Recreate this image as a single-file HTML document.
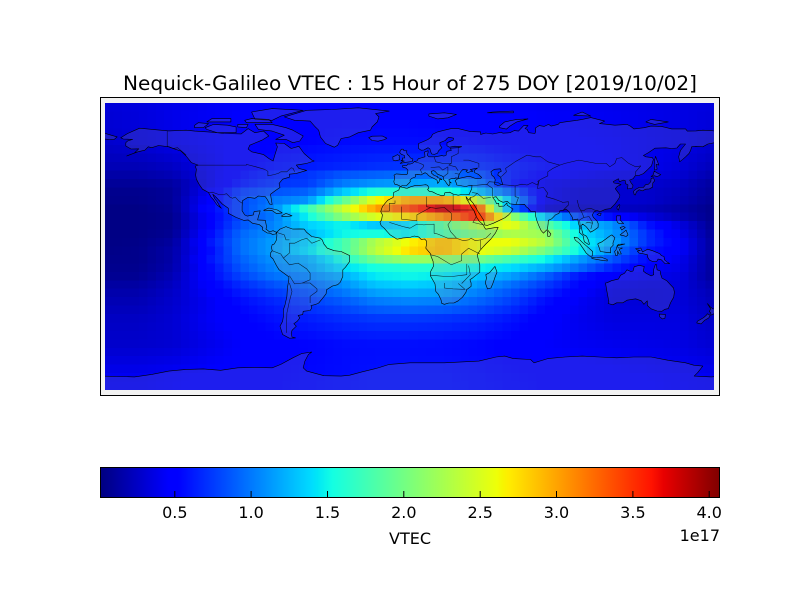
<!DOCTYPE html>
<html>
<head>
<meta charset="utf-8">
<style>
html,body{margin:0;padding:0;background:#fff;width:800px;height:600px;overflow:hidden}
svg{display:block}
text{font-family:"DejaVu Sans","Liberation Sans",sans-serif;fill:#000}
</style>
</head>
<body>
<svg id="s" width="800" height="600" viewBox="0 0 800 600" xmlns="http://www.w3.org/2000/svg">
<defs>
<linearGradient id="jet" x1="0" x2="1" y1="0" y2="0">
<stop offset="0" stop-color="#000080"/>
<stop offset="0.11" stop-color="#0000ff"/>
<stop offset="0.125" stop-color="#0000ff"/>
<stop offset="0.34" stop-color="#00dbff"/>
<stop offset="0.35" stop-color="#00e6f7"/>
<stop offset="0.375" stop-color="#14ffe2"/>
<stop offset="0.64" stop-color="#eeff08"/>
<stop offset="0.65" stop-color="#f7f500"/>
<stop offset="0.66" stop-color="#ffec00"/>
<stop offset="0.89" stop-color="#ff1300"/>
<stop offset="0.91" stop-color="#e80000"/>
<stop offset="1" stop-color="#800000"/>
</linearGradient>
<clipPath id="fc"><rect x="105" y="103" width="609" height="287"/></clipPath>
</defs>
<rect width="800" height="600" fill="#fff"/>
<text x="410" y="90" font-size="19.5" text-anchor="middle" textLength="574" lengthAdjust="spacingAndGlyphs">Nequick-Galileo VTEC : 15 Hour of 275 DOY [2019/10/02]</text>
<rect x="100" y="97" width="620" height="299" fill="#f2f2f2"/>
<g id="heat" shape-rendering="crispEdges"></g>
<g id="land" clip-path="url(#fc)"></g>
<rect x="100.5" y="97.5" width="619" height="298" fill="none" stroke="#000" stroke-width="1"/>

<rect x="100.5" y="467.5" width="619" height="30" fill="url(#jet)" stroke="#000" stroke-width="1"/>
<g stroke="#000" stroke-width="1">
<line x1="174.8" y1="498" x2="174.8" y2="491"/>
<line x1="251.1" y1="498" x2="251.1" y2="491"/>
<line x1="327.5" y1="498" x2="327.5" y2="491"/>
<line x1="403.8" y1="498" x2="403.8" y2="491"/>
<line x1="480.2" y1="498" x2="480.2" y2="491"/>
<line x1="556.5" y1="498" x2="556.5" y2="491"/>
<line x1="632.9" y1="498" x2="632.9" y2="491"/>
<line x1="709.2" y1="498" x2="709.2" y2="491"/>
</g>
<g font-size="16" text-anchor="middle">
<text x="174.8" y="518">0.5</text>
<text x="251.1" y="518">1.0</text>
<text x="327.5" y="518">1.5</text>
<text x="403.8" y="518">2.0</text>
<text x="480.2" y="518">2.5</text>
<text x="556.5" y="518">3.0</text>
<text x="632.9" y="518">3.5</text>
<text x="709.2" y="518">4.0</text>
</g>
<text x="410" y="544" font-size="16" text-anchor="middle">VTEC</text>
<text x="720" y="541" font-size="16" text-anchor="end">1e17</text>
</svg>
<script>
(function(){
function pw(pts,t){for(var i=1;i<pts.length;i++){if(t<=pts[i][0]){var a=pts[i-1],b=pts[i];return a[1]+(b[1]-a[1])*(t-a[0])/(b[0]-a[0]);}}return pts[pts.length-1][1];}
function jet(v){var t=(v-0.01)/4.06;t=Math.max(0,Math.min(1,t));
 var r=pw([[0,0],[0.35,0],[0.66,1],[0.89,1],[1,0.5]],t);
 var g=pw([[0,0],[0.125,0],[0.375,1],[0.64,1],[0.91,0],[1,0]],t);
 var b=pw([[0,0.5],[0.11,1],[0.34,1],[0.65,0],[1,0]],t);
 return "rgb("+Math.round(r*255)+","+Math.round(g*255)+","+Math.round(b*255)+")";}
var CX=[];for(var i=0;i<19;i++)CX.push(105+i*609/18);
var CY=[107.7,141.6,166.3,174.7,183.2,191.6,200.1,208.5,217,225.4,233.8,242.3,250.7,259.2,267.6,276.1,287.6,302.9,319.8,345.3,379.2];
var V=[
[.32,.34,.38,.42,.45,.48,.50,.50,.50,.50,.48,.47,.45,.43,.42,.40,.38,.36,.34],
[.28,.32,.38,.43,.48,.50,.52,.55,.56,.56,.55,.53,.50,.48,.46,.44,.40,.37,.30],
[.20,.20,.25,.38,.50,.58,.62,.66,.70,.72,.72,.70,.62,.55,.50,.45,.40,.33,.22],
[.15,.15,.2,.36,.55,.66,.72,.85,.9,.95,.95,.85,.62,.5,.42,.38,.35,.3,.17],
[.1,.1,.13,.35,.6,.72,.75,1.0,1.1,1.15,1.2,1.0,.6,.4,.35,.32,.3,.25,.12],
[.06,.06,.1,.4,.75,.85,.9,1.3,1.6,1.6,1.65,1.3,.9,.4,.3,.3,.28,.22,.1],
[.05,.05,.1,.45,.8,1.0,1.1,1.85,2.6,3.0,3.0,2.4,1.2,.4,.3,.3,.28,.2,.08],
[.03,.03,.08,.5,.8,1.05,1.7,2.4,3.0,3.4,3.85,3.5,1.0,.3,.25,.25,.22,.15,.05],
[.03,.03,.06,.45,.8,1.0,1.5,2.1,2.5,2.75,3.1,3.6,2.2,1.3,.8,.55,.35,.2,.05],
[.03,.03,.06,.45,.85,1.05,1.35,1.5,1.3,1.4,1.9,2.3,2.6,1.9,1.3,1.1,.6,.35,.06],
[.03,.03,.08,.5,.92,1.1,1.25,1.5,1.55,1.45,1.8,2.05,2.3,2.2,1.45,1.15,.7,.4,.08],
[.03,.04,.12,.55,.95,1.15,1.35,1.75,2.3,2.65,2.9,2.6,2.6,2.3,1.55,1.2,.7,.45,.1],
[.04,.05,.15,.5,.95,1.15,1.4,1.75,2.35,2.75,2.9,2.6,2.4,2.0,1.5,1.05,.6,.45,.1],
[.05,.05,.15,.55,.9,1.1,1.2,1.55,2.0,2.2,2.15,2.0,1.75,1.5,1.15,.85,.55,.4,.1],
[.06,.06,.17,.5,.85,1.05,1.15,1.4,1.55,1.6,1.6,1.5,1.4,1.2,.95,.65,.45,.38,.1],
[.08,.08,.2,.5,.78,.97,1.05,1.2,1.45,1.5,1.45,1.3,1.15,.9,.6,.45,.4,.35,.1],
[.15,.15,.25,.45,.65,.80,.90,1.05,1.25,1.3,1.25,1.1,.9,.7,.5,.35,.32,.33,.18],
[.20,.20,.28,.40,.55,.65,.75,.85,.98,1.02,1.0,.9,.75,.55,.42,.33,.32,.33,.22],
[.25,.25,.30,.42,.50,.57,.62,.68,.72,.72,.70,.66,.58,.48,.40,.35,.35,.35,.26],
[.28,.28,.30,.38,.45,.50,.52,.55,.56,.56,.55,.53,.50,.45,.42,.40,.38,.36,.30],
[.42,.42,.45,.48,.50,.52,.54,.56,.58,.58,.58,.56,.54,.52,.50,.48,.46,.44,.42]];
function loc(arr,v){if(v<=arr[0])return[0,0];if(v>=arr[arr.length-1])return[arr.length-2,1];
 for(var i=0;i<arr.length-1;i++){if(v<=arr[i+1])return[i,(v-arr[i])/(arr[i+1]-arr[i])];}return[arr.length-2,1];}
var heat=document.getElementById("heat");
var NC=72,NR=34,cw=609/NC,ch=287/NR,html="";
for(var r=0;r<NR;r++){for(var c=0;c<NC;c++){
 var x0=105+c*cw,y0=103+r*ch,px=x0+cw/2,py=y0+ch/2;
 var a=loc(CX,px),b=loc(CY,py);
 var i0=a[0],fx=a[1],j0=b[0],fy=b[1];
 var v=(V[j0][i0]*(1-fx)+V[j0][i0+1]*fx)*(1-fy)+(V[j0+1][i0]*(1-fx)+V[j0+1][i0+1]*fx)*fy;
 var w=(c==NC-1)?cw:cw+0.6,h=(r==NR-1)?ch:ch+0.6;
 html+='<rect x="'+x0.toFixed(2)+'" y="'+y0.toFixed(2)+'" width="'+w.toFixed(2)+'" height="'+h.toFixed(2)+'" fill="'+jet(v)+'"/>';
}}
heat.innerHTML=html;

function P(lon,lat){return[100+(lon+180)*620/360,97+(90-lat)*299/180];}
function path(a,close){var d="";for(var i=0;i<a.length;i+=2){var p=P(a[i],a[i+1]);d+=(i?"L":"M")+p[0].toFixed(1)+" "+p[1].toFixed(1);}return d+(close?"Z":"");}
var polys=[
[-168,65.5,-164,68,-157,71.2,-148,70.3,-140,69.6,-130,70,-125,69.5,-115,68.8,-108,68,-98,67.8,-94,71,-90,68.5,-85,69.5,-82,66.5,-86,64,-93,61,-94,58.7,-92,57,-85,55.3,-82,53,-79.5,51.5,-78.5,55,-77,60,-78,62.3,-73,62,-69,59,-64.5,60.3,-61.5,56,-57,52,-55.6,51.5,-60,50,-66,49,-64.5,47,-60,45.8,-66,44,-70,43.5,-70,41.7,-74,40.5,-76,38,-75.5,35.5,-78,33.8,-81,31.5,-80.5,28,-80,25.3,-81.5,25.5,-82.7,28,-84,30,-88,30.4,-90,29,-94,29.6,-97.3,27.5,-97.5,24,-97.5,21.5,-96,19,-94.5,18.3,-91,19,-90.5,21,-87,21.5,-88,18,-88.5,16,-84,15.8,-83.3,12,-83.6,10.5,-81.5,8.8,-79.5,9.5,-77.5,8.5,-78,7.5,-80,7.3,-81,8,-83,8.2,-85.7,10,-85.5,11.5,-87.5,13.2,-91.5,14,-94,16,-96.5,15.7,-101,17.5,-105.5,20,-105.5,23,-109,25.6,-112.5,29.5,-114.5,31.5,-113.5,29,-112,27,-110.3,24,-109.5,23,-112,25,-114,28,-115.5,29.7,-117,32.5,-120.5,34.5,-122.5,37.5,-124,40.5,-124.5,43,-124,46.5,-124.7,48.4,-123,49,-127,50.5,-130,54.5,-133,57.5,-137,58.8,-140,60,-146,60.8,-150,59.5,-152,60,-154,58,-158,57,-162,55.5,-164.5,54.5,-160,56.3,-157.5,58.8,-162,58.7,-165,60.5,-165,62.5,-164,63.5,-161,64.5,-166.5,64.7],
[-80,73.5,-72,71.5,-68,70,-62,66.5,-64,63.5,-68,62.5,-72,64.5,-78,64.5,-73,67,-80,69.5,-88,70.5,-90,73.5],
[-118,70.5,-112,68.5,-101,68.5,-101,72,-106,73,-114,73.5,-119,71.5],
[-90,76.5,-80,76,-75,78.5,-62,82,-80,83,-92,81],
[-125,71.5,-120,71.5,-117,74,-123,74.5,-125,73],
[-95,74.5,-80,74.5,-82,76.5,-92,77,-96,76],
[-100,72,-95,71.5,-94,73.5,-100,73.5],
[-118,75,-104,75,-104,77,-115,77],
[-73,78,-67,76,-58,75.5,-55,72,-53,70,-52,66,-49,62,-44,59.8,-42,61,-40,65,-35,66,-30,68.5,-23,70,-22,72,-19,75,-18,78,-20,80,-12,81.5,-30,83.5,-45,82.5,-60,82,-65,80.5],
[-24,65.5,-22,66.4,-16,66.5,-13.5,65.2,-15,64.3,-18.5,63.4,-22,63.8],
[-85,21.8,-82,23.2,-77,22,-74.2,20.2,-77.5,19.8,-80,21.6,-84.5,21.5],
[-74.5,18.5,-72,19.9,-68.5,18.5,-70.5,18.2,-74.4,18],
[-77.5,8.5,-75.5,10.5,-72,12,-71,11.5,-68,10.5,-64,10.6,-61.5,10.5,-60,8.5,-57,6,-52,5,-51,4,-50,1.5,-48,-1,-44,-2.5,-40,-3,-35,-5.5,-35,-9,-37.5,-12.5,-39,-14,-39,-18,-40.5,-21.5,-42,-23,-45,-23.8,-48.5,-26,-48.7,-28.5,-51,-31.5,-53,-34,-55,-35,-57.5,-35.5,-57,-37,-58,-38.5,-62,-39,-62.3,-41,-65,-41.5,-64,-43,-65.5,-45,-67.5,-46.5,-66,-48,-68.5,-50.5,-69,-52.2,-68.5,-54.5,-66.5,-55,-70,-55.2,-74,-53,-75.5,-48,-74,-45,-73.5,-42,-73.5,-38,-72.5,-35,-71.5,-30,-71.2,-25,-70.4,-20,-70.3,-18.3,-72,-17,-76,-14,-77.5,-11.5,-79.5,-7.5,-81,-6,-81,-4,-80,-2.5,-80.5,-0.5,-80,1,-78.8,1.5,-77.5,4,-77.3,7],
[-5.7,50,-3,50.6,1.3,51.2,1.7,52.7,0.3,53.3,-0.5,54.5,-1.7,55.6,-2,56.8,-1.8,57.6,-3.5,57.7,-4,58.6,-5,58.6,-5.7,57.5,-6,56.5,-5,55.5,-3.2,54.8,-3.2,54,-3,53.3,-4.5,53.3,-4.2,52.2,-5.2,51.7,-3.3,51.4,-4.5,51.1],
[-6,52.2,-6.3,53.4,-6,54.5,-7.3,55.3,-8.5,54.6,-10,54,-9.8,52,-8.5,51.6],
[49.3,-12,50.5,-15.5,49.5,-18,48,-22.5,47,-25,45,-25.5,43.7,-22,44.4,-19,44,-17,46.3,-15.7,48,-13.5],
[80,9.8,81.8,7.5,81.2,6.2,80,6,79.8,8],
[130.8,31,131.5,33,133,34.2,135,33.5,136.8,34.5,139,34.7,140.8,35.7,141,38.3,142,39.5,141.4,41.4,140,40.8,139.8,39,138.5,37.5,136.8,37.2,135.5,35.6,133,35.5,131,34.4,129.8,33.3,130.2,31.2],
[140,42,141.8,42.6,143.5,42,145.6,43.3,144,44,141.8,45.4,141.3,43.4],
[142,46,143.5,46.6,143,49.5,144.5,49,143,53,142.6,54.3,142,52,142.2,49],
[120.2,22.8,121,21.9,121.9,24.8,121.5,25.3,120.2,23.8],
[108.6,19.2,110.5,18.6,111,19.8,110,20.1],
[120,18.5,122.3,18.5,122,16,124,13.8,121.5,13.7,120.5,14.5,119.8,16.5],
[122,7,125.5,9.8,126.6,7,125.5,6,124,6.5],
[123,10,125,11.5,124,12,122,11.5],
[109,1.5,110,-1,110.5,-3,114,-3.5,116.5,-3.8,116.3,-1,118,0.8,117.8,2,119,5.3,117.2,7,116,6.3,113.8,4.6,111.5,2.8,109.6,2],
[95.3,5.6,97.5,5.2,100.3,2.3,103.7,-0.8,106,-3,105.8,-5.8,104.5,-5.9,102.3,-4,100.4,-1,98.6,1.7,96,3.8],
[105.2,-6.8,108.5,-6.6,111,-6.4,114.5,-7.8,114.5,-8.7,110.5,-8.2,106.5,-7.4],
[119.5,-5.5,120.3,-5.5,120.6,-2.6,121.3,-4.6,122.7,-4.5,121.5,-1.8,123.3,-0.9,121,-0.9,120.2,0.3,121,1.3,124.8,1.5,120.8,0.5,120,-0.2,119.7,-2,118.8,-3],
[131,-1.3,134,-0.9,135,-3.3,138,-1.6,141,-2.6,145,-4.3,146,-5.5,147.5,-6,147.8,-8,149.5,-9.5,150.8,-10.3,148,-10.2,146,-8,144,-7.6,143.3,-9,141,-9.1,139,-8.1,138,-6.5,137.9,-5,135.5,-4.4,133,-4,132,-2.8,133.8,-2.4,132,-2],
[113.5,-22,114.2,-26.3,115.5,-33.5,115,-34.3,117.8,-35.1,120,-33.9,123.6,-33.9,126,-32.3,131,-31.5,134.3,-32.7,135.8,-34.8,137.8,-32.7,137.8,-35.5,140,-37.5,143.5,-38.8,146.3,-39,148,-37.8,150,-37.4,151.3,-33.8,153.1,-30.5,153.5,-27.5,153,-25,150.8,-22.5,149,-20.5,146.3,-19,145.4,-16.2,145.3,-14.7,143.5,-14,143,-10.8,142.5,-10.8,141.5,-13.7,141.5,-17,140,-17.7,137,-16,135.5,-14.8,136,-12,133,-11.3,130.2,-12.2,129.5,-14.8,128,-15,126,-14,124.5,-16.2,122.3,-17.3,121,-19.6,117,-20.6,114.5,-21.8],
[144.7,-40.7,148.3,-40.9,148,-43.2,146.5,-43.6,145,-42.3],
[172.7,-34.4,174.5,-36.5,175.8,-37.5,178.5,-37.7,177.5,-39.2,176.5,-40.5,174.8,-41.3,174.6,-39.8,173.8,-39.2,174.6,-37.5],
[172.7,-40.5,174.3,-41.5,173.5,-43,171,-44.5,169,-46.6,166.5,-46,166.8,-45,168.5,-44,170.5,-42.8,172,-41.5],
[11,78.5,16,76.8,22,77.5,27,79.5,20,80.5,11,79.8],
[52,71.5,56,70.7,58,72.5,62,75,68.5,76.8,62,76.5,55,75,52,72.5],
[95,79,105,78.5,100,81],
[45,80.5,60,80.5,60,81.5,48,81],
[137,75,142,73.5,150,75,140,76.5],
[-180,65,-175,64.5,-172,64.3,-170,66,-175,67.5,-180,69],
[-180,-78,-160,-78.5,-150,-77,-140,-75,-130,-74,-120,-73.7,-110,-74.5,-100,-73,-90,-72.8,-80,-73,-75,-71,-68,-67,-63,-64.5,-57,-63.5,-59,-65,-61,-69,-62,-73,-60,-75,-50,-77.8,-40,-78,-35,-77.5,-28,-75.5,-20,-73.5,-12,-71,0,-70,10,-70,20,-70,30,-69.5,40,-69,50,-66.5,55,-66,60,-67.5,70,-68,72,-70,80,-67.5,90,-66.5,100,-66,110,-66.5,120,-67,130,-66.5,140,-66.5,150,-68.5,160,-70,165,-71.5,170,-72,167,-76,165,-78,175,-78.5,180,-78,181,-92,-181,-92]
];
var EA=[-5.9,35.8,-6.5,34,-9.5,32.5,-9.8,29.5,-13,27.8,-16,24,-17,21,-16,19,-16.5,16,-17.4,14.7,-16.7,12.5,-15,11,-13.3,9,-11.5,7,-7.5,4.4,-4,5.2,0,5.5,2.5,6.3,5,5.8,6.5,4.3,8.5,4.5,9.7,3.2,9.5,1,9.2,-1,11.8,-4.2,12.3,-6.2,13.4,-9,13.6,-12,12,-15,11.8,-17.5,14.5,-22.5,15,-27,16.5,-28.8,18,-32,18.4,-34.2,20,-34.8,22.5,-34,25.5,-34,28,-32.7,30.5,-30.5,32.5,-27.5,32.8,-26,35.5,-24,35.5,-22,34.8,-20,36.5,-18.8,40.5,-15.5,40.5,-11,39.5,-7,39,-5,40.5,-2.5,42,-0.8,44,1.5,47,4.5,49.5,8,51.2,11.5,49,11.3,44,10.4,43.2,11.5,42.6,13,40,15.5,38.5,18,37.3,21.5,35.7,23.5,34.5,26,33,28.5,32.5,30,34.2,27.8,35,29.5,35,28,36.7,26,38.5,23,39.2,21.5,40.8,19,42.7,16,43.3,13,45,12.7,48.5,14,52,15.8,55,17.2,57,18.8,58.6,20.5,59.8,22.5,58,23.8,56.4,24.9,56.3,26.3,54.5,24.3,51.6,24.2,51.5,26,50.2,25.8,49.5,27.5,48,29.5,50,30,51.5,27.8,54,26.6,56.5,27.2,58,25.7,61.5,25.2,66.5,25.4,67.4,24,68.8,22.9,70.2,21,72.8,21,72.8,19,73.5,16,74.7,12.8,76.2,9.5,77.5,8,78.2,8.8,79.8,10.3,80.2,13.5,80.3,15.8,82.2,16.6,84.5,19,86.5,20,87,21.5,89,21.8,90.5,22.5,92.3,21,92.8,20,94.3,17.5,94.5,16,97.5,16.5,97.8,14,98.6,11.5,98.3,8.5,100.5,6.5,101.2,2.8,103.4,1.3,104.2,1.4,103.5,4.1,102.5,6.2,100.5,7.3,99.8,10,99.3,12.5,100.3,13.5,102,12.2,103,11,104.8,8.6,106.5,9.5,109.2,11.5,109.3,13.8,108.5,15.5,106.5,17.5,105.8,19,107,21,108.5,21.7,110.5,21,113.5,22.4,116.5,22.9,119,25.5,120,27,121.6,29.5,121.9,31,120.5,33,119.2,34.8,120.3,36.2,122.5,37.2,121,37.8,118.5,38.2,118,39.1,121,40.8,121.6,39,124,40,125,39.6,125.2,37.8,126.6,37.1,126.3,34.6,129.2,35.2,129.5,36.8,128.2,38.6,127.5,40,129.6,40.9,130.8,42.6,133,42.8,135.5,43.9,138.2,46.5,140.2,48.5,141.3,52.5,140.7,53.5,137,54,135.5,54.8,138.5,56.5,142.2,59.2,148.5,59.4,152,59,155,59.3,157,61.7,160,61.7,157,57.8,156,54,156.6,51,158.4,52.5,160,54,162,56,163,58,163.5,60,166,60.3,170,60,173,61.7,177,62.5,179,63,180,65,180,69,175,69.8,170,70,166,69.6,161,69.5,160,70.8,152,70.8,146,72.3,140,72.5,136,71.5,130,70.8,128,72.5,126,73.5,119,73,113,73.7,110,74,113,75.5,105,77.6,100,76.5,97,76,92,75.3,87,74.5,86,73.5,82,72.5,80.5,73.5,78,72.3,75,72.8,73,71.5,73,69.5,72.5,68,69,68.5,68,70.5,66.8,71,68.5,72.8,66,72.8,63,69.5,60.5,69.8,58,68.5,54,68.2,53,68.8,48,67.7,44,68.3,41,67.5,41,69,35,69.2,28,71,24,71,20,70,16,69,13,67.5,12.5,66,10.5,64.5,8,63.3,5,62,5,59,6.5,58,8,58.1,10.5,59.5,11.5,58.9,12.3,56.2,12.7,55.6,14.3,55.5,16,56.2,16.5,57.5,18.5,59.5,17.5,61,17.3,62.5,20.5,63.8,21.5,65,22.5,65.8,25.3,65.2,25,64,21.5,62.5,21.4,60.7,23,59.8,26,60.4,30,60.1,28,59.5,23.5,59.2,24,57.8,21.6,57.4,21,56.5,21,55,19.7,54.4,18.5,54.7,14.5,54,11,54,10,55,10.5,56.5,10.5,57.7,8.3,56.8,8.6,55.5,8.7,54,7,53.5,4.8,52.8,4,51.5,2.5,51.1,1.6,50.2,0,49.6,-1.3,49.7,-1.9,48.7,-4.5,48.6,-4.3,47.8,-2.3,47.2,-1.2,46,-1.4,44,-1.8,43.4,-4,43.4,-8,43.7,-9.3,43,-8.8,41.5,-9.4,39,-8.9,37.5,-7.5,37.2,-6,36.5,-5.5,36,-4.5,36.7,-2,36.7,-0.5,38.2,0.2,39,0,40,1,41,3.2,41.9,3,43.2,4.5,43.4,6.5,43.1,7.6,43.8,8.8,44.4,10.3,43.5,10.5,42.9,12.3,41.7,13.6,41.2,15.7,40,16,38,16.6,38.5,17,39.4,17.2,40.4,18.5,40.2,18,40.7,15.9,41.6,16,42,14,42.8,12.5,44.2,12.3,45.3,13.6,45.7,14.5,45.3,16,43.5,18.5,42.5,19.5,41.8,19.3,40.5,20.5,39.3,21.3,37.9,22.5,36.5,23.2,37.5,23,38.5,24,38.2,22.8,39.3,22.6,40.3,24,40.8,26,40.8,26.3,41.3,28,41.2,28.5,43.4,29.6,45.2,30.8,46.5,33.5,46,32.5,45.3,33.5,44.5,35.5,45.2,36.5,45.3,35,46.3,38,47,39.2,47.2,37.5,46,37.5,44.5,39.7,43.4,41.6,41.6,41,41,38.3,40.9,35.2,42,33,42,29,41.1,27,40.4,26.2,39.5,26.8,38.4,27.2,37,28.8,36.7,30.5,36.4,32.5,36.1,34.6,36.8,36,36.8,35.8,34.6,35,33,34.3,31.2,32.2,31.3,30,31.3,28,30.9,25,31.6,23,32.7,20.2,32.3,20,30.9,18.5,30.5,15.5,31.6,13,32.9,11.2,33.2,10.2,34.3,11,35.3,10.3,36.8,9.2,37.2,7.7,37,5.5,36.8,3.2,36.8,0.5,36,-1.5,35.1,-2.2,35.1,-5.2,35.8];
var CASP=[47,45,49,46.5,52.5,46.8,53,45.3,51.3,44.5,51,43,52.7,41.7,53,40,53.9,37.3,51,36.7,49,37.6,49.5,40.2,48.8,41.8,47.5,43];
var lines=[
[-123,49,-95,49,-95,49.4,-89.5,48,-84.5,46.5,-82.5,45.3,-82.5,42.5,-79,43.3,-76.5,44,-75,45,-71.5,45,-70,46.5,-69,47.4,-67.8,47,-67,45],
[-141,69.6,-141,60.3,-137.5,59,-135,59.5,-131,56,-130,55],
[-117,32.5,-114.7,32.7,-111,31.3,-108.2,31.3,-106.5,31.8,-104.5,29.7,-103,29,-101.5,29.8,-99.5,27.5,-97.2,25.9],
[25,31.6,25,22,36.9,22],[9.5,30,9.5,24,12,23.5,15,23,20,23.5,24,20,24,16,22,13,23.5,9,27,5,31,3.5,34,4,35.5,5,38,3.5,41,4,41,-1.5],
[-8.7,27.7,-8.7,26,-12,26,-12,21.3,-17,21.3],[-5,24,-5,16.5,4,15.5,4,19,11.9,23.5],[-12,14.5,-4,12,0,11,4,13.5,8,13,14,13.5,14,8,16,7.5,22,5,27,5],[36.9,22,38.5,18,36.5,14.5,42.6,13],[47,8,44,5,41,4],[12,-5,16,-6,24,-11,30,-8.5,30,-4.5,34,-1,40.5,-4.5],[12,-17.3,20,-18,25,-18,33,-17,33,-10.5],[20,-22,20,-25,25,-25.5,32,-25.8,28,-22.2],[34,-11.5,35,-17,30,-22.3],
[-70,-17.5,-67,-22.5,-62.5,-22,-58,-20,-58,-16,-60,-13.5,-65,-10,-70,-11,-73.5,-7,-70,-4,-70,2,-67,2,-63,4,-60,5,-57,2,-52,4],[-70,-22,-68.5,-27,-70,-33,-71.5,-40,-71.8,-52],[-58,-34,-58,-30,-54,-27,-54,-25.5,-58,-22,-62.5,-22],[-73.5,-7,-75,-4.5,-80,-2.5],[-77.5,8.5,-73,7,-72,4,-70,4],
[2.5,51.1,6,50,8,49,7.5,47.5,6,46.2,7,44],[14,54,15,51,19,50,24,50,22.5,49,26.5,48,28,45.5],[12,47.5,17,48,19,46,22,48,22,44,19.5,42],[24,50,24,54,28,56,28,60],[31,52,34,52,40,50,40,47.5],[28,41.2,28.5,43.6,26,44],
[36,36.8,38,36.8,42,37.2,44.8,37.2,48,35,48,30],[36,32.5,39,32,42.5,29,47,29.5],[35,29.5,37,30,39,32],[44.5,37,46,39,51,38.5,53,37.3,61,36.5,61,30,63,29.5,61.5,25.2],[61,36.5,65,37.5,68,37,71,38.5,74,37,75,40,74,35,77.5,35.5,80,32,79,30,84,28.5,88,27,88.5,26.5,92,27,92,25,89,22],[53,42,56,45,55.5,47,61,51,68,55,73,54,76,54,80,51,87,49,90,50,98,52,108,50,114,50,116,48,119,50,120,53,123,53.5,127,50,131,48,134,48.5,131,45,131,43],[87,49,83,47,80,45,80,42.5,76,40.5,74,39],[97,28,98,24,99,22,101,21.5,102,22.5,105,23,108,21.5],[99,22,100,20,101,17.5,98.5,16,99,10.5],[101,17.5,104,18,106,14.5,105,10.5],[102,14,103,14.5,106,14]
];
var land=document.getElementById("land");
var LF="rgba(150,150,170,0.2)";
var out="";
out+='<path d="'+path(EA,true)+path(CASP,true)+'" fill-rule="evenodd" fill="'+LF+'" stroke="#000" stroke-width="0.6" stroke-linejoin="round"/>';
for(var k=0;k<polys.length;k++){out+='<path d="'+path(polys[k],true)+'" fill="'+LF+'" stroke="#000" stroke-width="0.6" stroke-linejoin="round"/>';}
for(var m=0;m<lines.length;m++){out+='<path d="'+path(lines[m],false)+'" fill="none" stroke="#000" stroke-width="0.55" stroke-opacity="0.8" stroke-linejoin="round"/>';}
land.innerHTML=out;
})();
</script>
</body>
</html>
